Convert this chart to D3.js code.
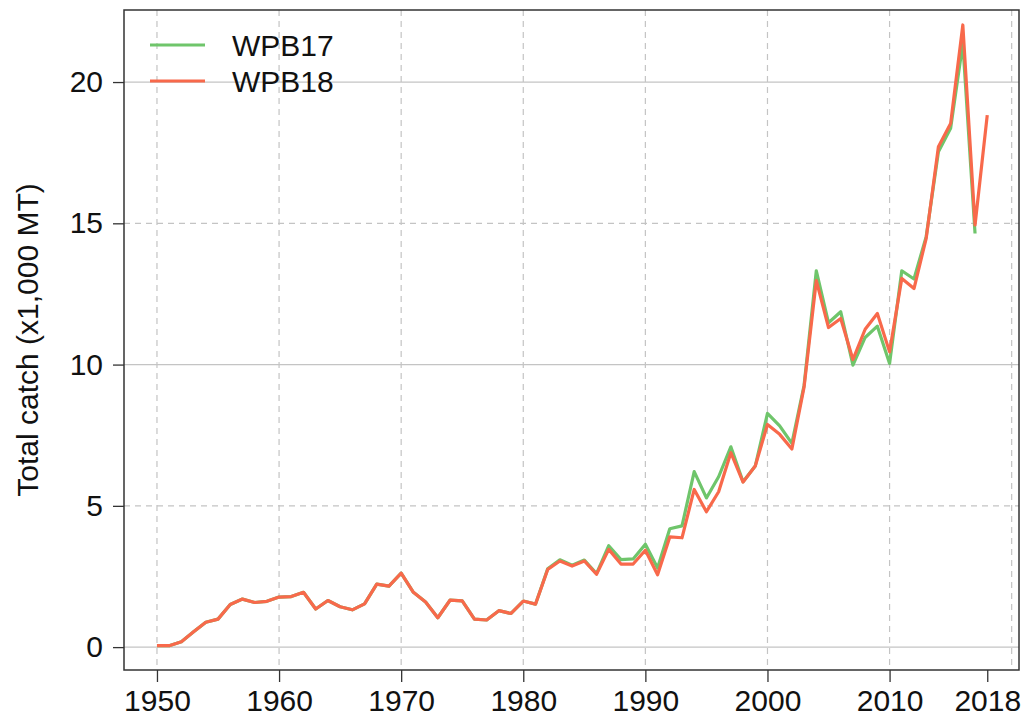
<!DOCTYPE html>
<html>
<head>
<meta charset="utf-8">
<script src="https://cdn.jsdelivr.net/npm/d3@7"></script>
<style>
  html, body { margin: 0; padding: 0; background: #ffffff; }
  svg { display: block; font-family: "Liberation Sans", Arial, sans-serif; }
</style>
</head>
<body>
<svg id="chart" width="1022" height="726"></svg>
<script>
// ---- data ----
const years = d3.range(1950, 2019);
const seriesNames = ["WPB17", "WPB18"];
const wpb17 = [0.05,0.05,0.19,0.54,0.88,0.99,1.51,1.70,1.58,1.62,
               1.77,1.79,1.94,1.35,1.65,1.43,1.32,1.53,2.23,2.16,
               2.62,1.94,1.60,1.04,1.66,1.64,0.99,0.96,1.29,1.19,
               1.63,1.52,2.77,3.09,2.90,3.08,2.60,3.59,3.10,3.12,
               3.64,2.80,4.19,4.29,6.21,5.28,6.03,7.09,5.85,6.41,
               8.27,7.83,7.21,9.27,13.32,11.48,11.87,9.98,10.96,11.36,
               10.04,13.32,13.03,14.53,17.53,18.36,21.37,14.64,null];
const wpb18 = [0.05,0.05,0.19,0.54,0.88,0.99,1.51,1.70,1.58,1.62,
               1.77,1.79,1.94,1.35,1.65,1.43,1.32,1.53,2.23,2.16,
               2.62,1.94,1.60,1.04,1.66,1.64,0.99,0.96,1.29,1.19,
               1.63,1.52,2.75,3.05,2.87,3.05,2.58,3.46,2.94,2.94,
               3.43,2.56,3.90,3.87,5.58,4.79,5.50,6.88,5.84,6.41,
               7.88,7.53,7.01,9.21,12.97,11.31,11.63,10.18,11.25,11.81,
               10.45,13.05,12.69,14.47,17.71,18.53,22.02,14.94,18.83];
const xTicks = [1950, 1960, 1970, 1980, 1990, 2000, 2010, 2018];
const xGrid = [1950, 1960, 1970, 1980, 1990, 2000, 2010, 2020];
const yTicks = [0, 5, 10, 15, 20];
const yLabel = "Total catch (x1,000 MT)";
const colors = ["#6fc56b", "#f8694b"];

// ---- layout ----
const svg = d3.select("#chart");
const box = {left: 124, right: 1019, top: 10, bottom: 670};
const x = d3.scaleLinear().domain([1947.3, 2020.6]).range([box.left, box.right]);
const y = d3.scaleLinear().domain([-0.81, 22.55]).range([box.bottom, box.top]);

const grid = svg.append("g");
grid.selectAll("line.v").data(xGrid).join("line")
  .attr("x1", d => x(d)).attr("x2", d => x(d))
  .attr("y1", box.top).attr("y2", box.bottom)
  .attr("stroke", "#c4c4c4").attr("stroke-width", 1.2)
  .attr("stroke-dasharray", "6,5");
grid.selectAll("line.h").data(yTicks).join("line")
  .attr("x1", box.left).attr("x2", box.right)
  .attr("y1", d => y(d)).attr("y2", d => y(d))
  .attr("stroke", "#c4c4c4").attr("stroke-width", 1.2)
  .attr("stroke-dasharray", d => d % 10 === 0 ? null : "6,5");

// lines
const series = [wpb17, wpb18];
const line = d3.line()
  .defined(d => d.v !== null)
  .x(d => x(d.year)).y(d => y(d.v));
series.forEach((vals, i) => {
  svg.append("path")
    .datum(years.map((yr, j) => ({year: yr, v: vals[j]})))
    .attr("fill", "none")
    .attr("stroke", colors[i])
    .attr("stroke-width", 3.2)
    .attr("stroke-linejoin", "round")
    .attr("d", line);
});

// axes
const xAxis = d3.axisBottom(x).tickValues(xTicks).tickFormat(d3.format("d"))
  .tickSize(12).tickPadding(8);
const gx = svg.append("g").attr("transform", `translate(0,${box.bottom})`).call(xAxis);
gx.select(".domain").remove();
gx.selectAll("line").attr("stroke", "#333").attr("stroke-width", 1.3);
gx.selectAll("text").attr("font-size", 30).attr("fill", "#111")
  .attr("font-family", "Liberation Sans, Arial, sans-serif");

const yAxis = d3.axisLeft(y).tickValues(yTicks).tickSize(11).tickPadding(10);
const gy = svg.append("g").attr("transform", `translate(${box.left},0)`).call(yAxis);
gy.select(".domain").remove();
gy.selectAll("line").attr("stroke", "#333").attr("stroke-width", 1.3);
gy.selectAll("text").attr("font-size", 30).attr("fill", "#111")
  .attr("font-family", "Liberation Sans, Arial, sans-serif");

// frame
svg.append("rect")
  .attr("x", box.left).attr("y", box.top)
  .attr("width", box.right - box.left).attr("height", box.bottom - box.top)
  .attr("fill", "none").attr("stroke", "#333").attr("stroke-width", 1.5);

// y label
svg.append("text")
  .attr("transform", `translate(38,${(box.top + box.bottom) / 2}) rotate(-90)`)
  .attr("text-anchor", "middle")
  .attr("font-size", 30).attr("fill", "#111")
  .text(yLabel);

// legend
const leg = svg.append("g");
seriesNames.forEach((name, i) => {
  const ly = 45 + i * 36;
  leg.append("line").attr("x1", 150).attr("x2", 205)
    .attr("y1", ly).attr("y2", ly)
    .attr("stroke", colors[i]).attr("stroke-width", 3.2);
  leg.append("text").attr("x", 232).attr("y", ly).attr("dy", "0.36em")
    .attr("font-size", 30).attr("fill", "#111").text(name);
});
</script>
</body>
</html>
